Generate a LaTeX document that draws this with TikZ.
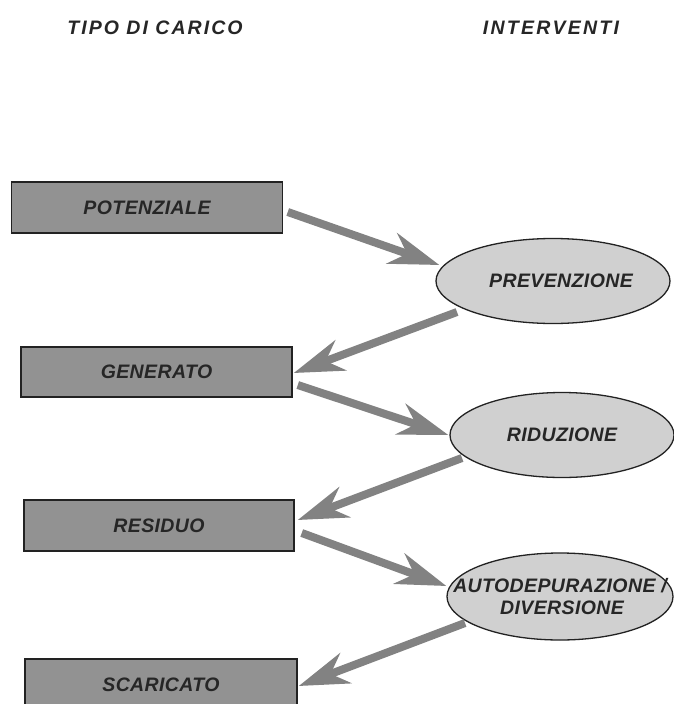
\documentclass[tikz,border=0pt]{standalone}
\usepackage{fontspec}
\setmainfont{Liberation Sans}
\usetikzlibrary{shapes.geometric,arrows.meta,calc}
\definecolor{boxfill}{HTML}{929292}
\definecolor{ellfill}{HTML}{D0D0D0}
\definecolor{edgecol}{HTML}{222222}
\definecolor{arrcol}{HTML}{828282}
\definecolor{txtcol}{HTML}{262626}
\newcommand{\zw}[1]{\makebox[0pt][c]{#1}}
\tikzset{
  hdr/.style={text=txtcol, inner sep=0pt,
    font=\fontsize{19.5}{22}\selectfont\bfseries\itshape\addfontfeature{LetterSpace=10.5}},
  hdrb/.style={hdr, font=\fontsize{19.5}{22}\selectfont\bfseries\itshape\addfontfeature{LetterSpace=11.5}},
  loadbox/.style={rectangle, draw=edgecol, line width=1.5pt, fill=boxfill,
    inner sep=0pt, text=txtcol,
    font=\fontsize{19.5}{22}\selectfont\bfseries\itshape\addfontfeature{LetterSpace=2}},
  actell/.style={ellipse, draw=edgecol, line width=1.3pt, fill=ellfill,
    inner sep=0pt, text=txtcol, align=center,
    font=\fontsize{19.5}{22}\selectfont\bfseries\itshape\addfontfeature{LetterSpace=2}},
  flow/.style={draw=arrcol, line width=8pt,
    -{Stealth[length=50pt, width=32pt, inset=16pt, fill=arrcol]}}
}
\begin{document}
\begin{tikzpicture}[x=1pt,y=-1pt]
\useasboundingbox (0,0) rectangle (674,704);
\clip (0,0) rectangle (674,704);
\fill[white] (0,0) rectangle (674,704);

\node[hdr] (h1) at (155,28) {TIPO DI CARICO};
\node[hdrb] (h2) at (551,28) {INTERVENTI};

\node[loadbox, minimum width=271pt, minimum height=51pt] (pot) at (147,207.5) {POTENZIALE};
\node[loadbox, minimum width=271pt, minimum height=50pt] (gen) at (156.5,372) {GENERATO};
\node[loadbox, minimum width=270pt, minimum height=51pt] (res) at (159,525.5) {RESIDUO};
\node[loadbox, minimum width=272pt, minimum height=51pt] (sca) at (161,684.5) {SCARICATO};

\node[actell, minimum width=234pt, minimum height=85pt] (prev) at (553,281) {\zw{\hspace*{16pt}PREVENZIONE}};
\node[actell, minimum width=224pt, minimum height=85pt] (rid) at (562,435) {\zw{RIDUZIONE}};
\node[actell, minimum width=226pt, minimum height=87pt] (aut) at (560,596.5) {\zw{AUTODEPURAZIONE /}\\\zw{\hspace*{4pt}DIVERSIONE}};

\draw[flow] ($(pot.east)+(4.5,4.5)$) -- ($(prev.west)+(4,-16)$);
\draw[flow] ($(prev.center)+(-96,31)$) -- ($(gen.east)+(1,1)$);
\draw[flow] ($(gen.east)+(5,13)$) -- ($(rid.west)+(-1,0)$);
\draw[flow] ($(rid.center)+(-100,23)$) -- ($(res.east)+(3,-5.5)$);
\draw[flow] ($(res.east)+(7,7.5)$) -- ($(aut.west)+(0,-10.5)$);
\draw[flow] ($(aut.center)+(-95,26.5)$) -- ($(sca.east)+(1,1.5)$);
\end{tikzpicture}
\end{document}
